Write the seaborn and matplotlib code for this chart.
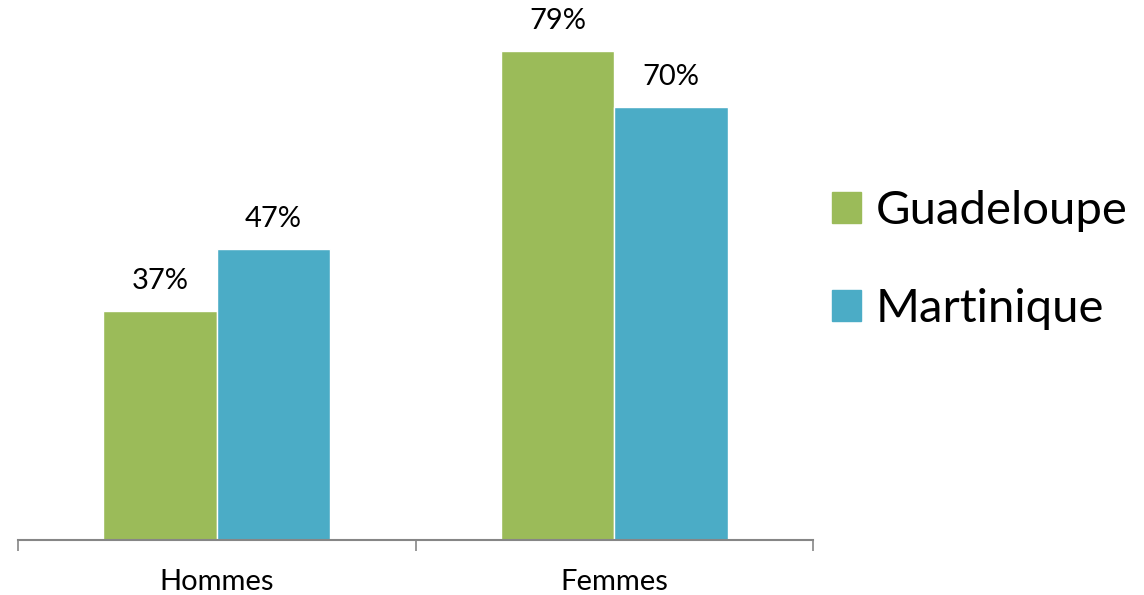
import pandas as pd
import seaborn as sns
import matplotlib.pyplot as plt
from matplotlib.patches import Patch

# ---DATA-----------------------------------------------------------------------
categories = ["Hommes", "Femmes"]
regions = ["Guadeloupe", "Martinique"]
guadeloupe = [37, 79]
martinique = [47, 70]
colors = {"Guadeloupe": "#9BBB59", "Martinique": "#4BACC6"}

data = pd.DataFrame({
    "sexe": categories * 2,
    "region": ["Guadeloupe"] * 2 + ["Martinique"] * 2,
    "pct": guadeloupe + martinique,
})

# ---PLOT-----------------------------------------------------------------------
sns.set_style("white")
plt.rcParams["font.family"] = ["Lato", "DejaVu Sans"]
plt.rcParams["text.color"] = "black"
plt.rcParams["xtick.color"] = "black"

fig = plt.figure(figsize=(11.44, 5.95), dpi=100)
ax = fig.add_axes([18 / 1144, 55 / 595, 795 / 1144, 540 / 595])

sns.barplot(data=data, x="sexe", y="pct", hue="region", order=categories,
            hue_order=regions, palette=colors, width=0.57, gap=0,
            saturation=1, legend=False, ax=ax)

for bar in ax.patches:
    h = bar.get_height()
    if h > 0:
        ax.annotate(f"{h:.0f}%", (bar.get_x() + bar.get_width() / 2, h),
                    xytext=(0, 21.5), textcoords="offset points",
                    ha="center", va="center", fontsize=21, color="black")

ax.set_xlim(-0.5, 1.5)
ax.set_ylim(0, 87.2)
ax.set_xticks([-0.5, 0.5, 1.5])
ax.set_xticklabels([])
ax.set_xticks([0, 1], minor=True)
ax.set_xticklabels(categories, minor=True, fontsize=21, color="black")
ax.tick_params(axis="x", which="major", length=8, width=1.2, color="#868686",
               direction="out", bottom=True)
ax.tick_params(axis="x", which="minor", length=0, pad=21)
ax.set_yticks([])
ax.set_xlabel("")
ax.set_ylabel("")
for side in ["left", "right", "top"]:
    ax.spines[side].set_visible(False)
ax.spines["bottom"].set_color("#868686")
ax.spines["bottom"].set_linewidth(1.5)

handles = [Patch(color=colors[r], label=r) for r in regions]
fig.legend(handles=handles, loc="center left",
           bbox_to_anchor=(808 / 1144, 1 - 260 / 595),
           frameon=False, fontsize=34, handlelength=0.63, handleheight=0.63,
           handletextpad=0.3, labelspacing=1.2, borderpad=0,
           labelcolor="black")

plt.savefig("out.png", dpi=100)
